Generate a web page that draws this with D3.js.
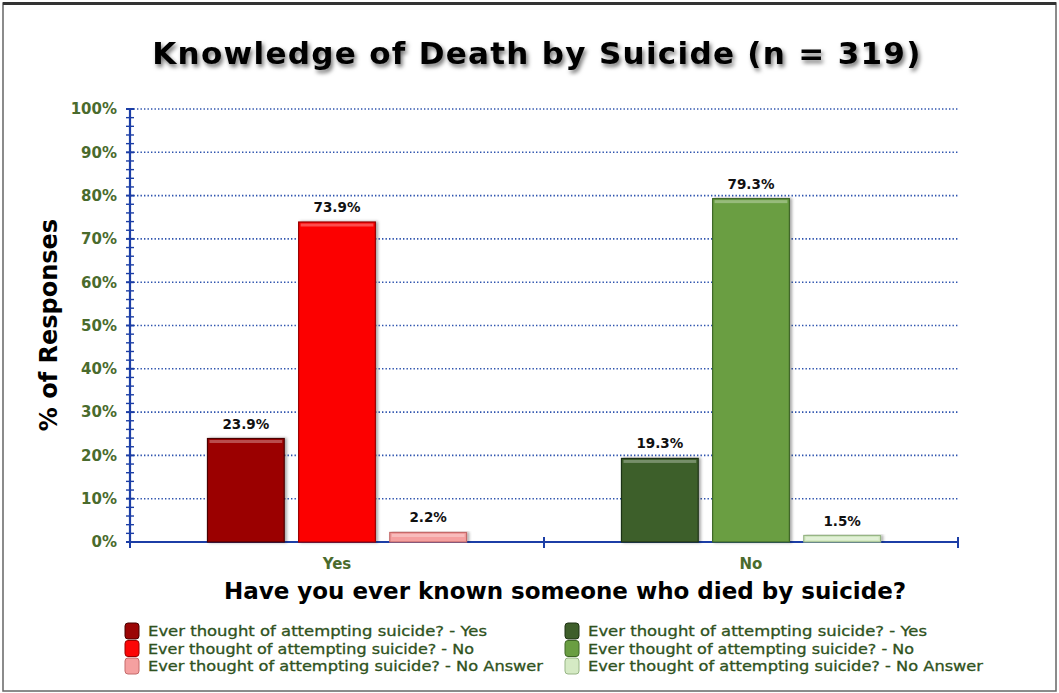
<!DOCTYPE html>
<html><head><meta charset="utf-8">
<script src="https://cdn.jsdelivr.net/npm/d3@7"></script>
<style>html,body{margin:0;padding:0;background:#fff;}svg{display:block;}</style>
</head><body>
<svg id="c" width="1059" height="693"></svg>
<script>
const categories = ["Yes", "No"];
const seriesNames = ["Ever thought of attempting suicide? - Yes", "Ever thought of attempting suicide? - No", "Ever thought of attempting suicide? - No Answer"];
const yesValues = [23.9, 73.9, 2.2];
const noValues = [19.3, 79.3, 1.5];
const yTicks = [0, 10, 20, 30, 40, 50, 60, 70, 80, 90, 100];
const yesColors = ["#9b0505", "#fc0606", "#f5a0a0"];
const noColors = ["#3e5e2a", "#6a9e42", "#d5eac4"];
const yesStroke = ["#4a0000", "#9a0000", "#c46a6a"];
const noStroke = ["#1f3314", "#3e6626", "#97b585"];

const svg = d3.select("#c");
const defs = svg.append("defs");
const f = defs.append("filter").attr("id","tshadow").attr("x","-5%").attr("y","-30%").attr("width","110%").attr("height","170%");
f.append("feDropShadow").attr("dx",2).attr("dy",3).attr("stdDeviation",2).attr("flood-color","#000").attr("flood-opacity",0.55);
const bf = defs.append("filter").attr("id","bshadow").attr("x","-20%").attr("y","-10%").attr("width","140%").attr("height","120%");
bf.append("feDropShadow").attr("dx",2).attr("dy",0).attr("stdDeviation",1.5).attr("flood-color","#000").attr("flood-opacity",0.35);

// frame
svg.append("rect").attr("x",3).attr("y",3).attr("width",1053).attr("height",688)
  .attr("fill","none").attr("stroke","#666").attr("stroke-width",1.5);
svg.append("line").attr("x1",3).attr("x2",1056).attr("y1",3.5).attr("y2",3.5).attr("stroke","#333").attr("stroke-width",3);

const y = d3.scaleLinear().domain([0,100]).range([542,109]);
const x0 = d3.scaleBand().domain(categories).range([130,958]).padding(0);
const x1 = d3.scaleBand().domain(seriesNames).range([0, x0.bandwidth()]).paddingInner(0.158).paddingOuter(0.85);

// title
svg.append("text").attr("x",537).attr("y",64).attr("text-anchor","middle")
  .attr("font-family","DejaVu Sans").attr("font-weight","bold").attr("font-size",31)
  .attr("letter-spacing",1.3).attr("filter","url(#tshadow)").attr("fill","#000")
  .text("Knowledge of Death by Suicide (n = 319)");

// gridlines
svg.append("g").selectAll("line").data(yTicks.filter(d=>d>0)).join("line")
  .attr("x1",130).attr("x2",958).attr("y1",d=>y(d)).attr("y2",d=>y(d))
  .attr("stroke","#2c52ad").attr("stroke-width",1.6).attr("stroke-dasharray","1.4,2.1");

// y axis
const axisColor = "#1c3ea6";
const yAxis = svg.append("g").attr("transform","translate(130,0)")
  .call(d3.axisLeft(y).tickValues(yTicks).tickFormat(d=>d+"%").tickSize(0).tickPadding(13));
yAxis.select(".domain").remove();
yAxis.selectAll("text").attr("font-family","DejaVu Sans").attr("font-weight","bold").attr("font-size",15).attr("fill","#4a6b2d");
svg.append("g").selectAll("line").data(d3.range(0,101,2)).join("line")
  .attr("x1",126).attr("x2",134).attr("y1",d=>y(d)).attr("y2",d=>y(d))
  .attr("stroke",axisColor).attr("stroke-width",d=>d%10===0?2:1.4);
svg.append("line").attr("x1",130).attr("x2",130).attr("y1",y(100)).attr("y2",y(0)+1).attr("stroke",axisColor).attr("stroke-width",2.2);

// x axis
svg.append("line").attr("x1",130).attr("x2",958).attr("y1",y(0)).attr("y2",y(0)).attr("stroke",axisColor).attr("stroke-width",2.2);
const sepTicks = [x0.range()[0], ...categories.map(c=>x0(c)+x0.bandwidth())];
svg.append("g").selectAll("line").data(sepTicks).join("line")
  .attr("x1",d=>d).attr("x2",d=>d).attr("y1",y(0)-5).attr("y2",y(0)+6).attr("stroke",axisColor).attr("stroke-width",2);
svg.append("g").selectAll("text").data(categories).join("text")
  .attr("x",c=>x0(c)+x0.bandwidth()/2).attr("y",569).attr("text-anchor","middle")
  .attr("font-family","DejaVu Sans").attr("font-weight","bold").attr("font-size",15).attr("fill","#4a6b2d").text(c=>c);

// bars
const groups = [{cat:"Yes", vals:yesValues, colors:yesColors, strokes:yesStroke},{cat:"No", vals:noValues, colors:noColors, strokes:noStroke}];
groups.forEach(g=>{
  const gg = svg.append("g").attr("transform",`translate(${x0(g.cat)},0)`);
  const data = seriesNames.map((s,i)=>({s, v:g.vals[i], c:g.colors[i], st:g.strokes[i]}));
  gg.selectAll("rect.bar").data(data).join("rect").attr("class","bar")
    .attr("x",d=>x1(d.s)).attr("width",x1.bandwidth())
    .attr("y",d=>y(d.v)).attr("height",d=>y(0)-y(d.v))
    .attr("fill",d=>d.c).attr("stroke",d=>d.st).attr("stroke-width",1.2).attr("filter","url(#bshadow)");
  gg.selectAll("rect.hl").data(data).join("rect").attr("class","hl")
    .attr("x",d=>x1(d.s)+2).attr("width",x1.bandwidth()-4)
    .attr("y",d=>y(d.v)+1.5).attr("height",d=>Math.min(3, Math.max(0,y(0)-y(d.v)-3)))
    .attr("fill","#fff").attr("opacity",0.3);
  gg.selectAll("text").data(data).join("text")
    .attr("x",d=>x1(d.s)+x1.bandwidth()/2).attr("y",d=>y(d.v)-10).attr("text-anchor","middle")
    .attr("font-family","DejaVu Sans").attr("font-weight","bold").attr("font-size",13.5).attr("fill","#111")
    .text(d=>d.v.toFixed(1)+"%");
});

// axis titles
svg.append("text").attr("transform","translate(57,325) rotate(-90)").attr("text-anchor","middle")
  .attr("font-family","DejaVu Sans").attr("font-weight","bold").attr("font-size",24).attr("fill","#000")
  .text("% of Responses");
svg.append("text").attr("x",565).attr("y",599).attr("text-anchor","middle")
  .attr("font-family","DejaVu Sans").attr("font-weight","bold").attr("font-size",23).attr("fill","#000")
  .text("Have you ever known someone who died by suicide?");

// legend
const legendCols = [{x:125, colors:yesColors, strokes:yesStroke},{x:565, colors:noColors, strokes:noStroke}];
legendCols.forEach(col=>{
  const lg = svg.append("g");
  const items = seriesNames.map((s,i)=>({s,c:col.colors[i],st:col.strokes[i],i}));
  lg.selectAll("rect").data(items).join("rect")
    .attr("x",col.x).attr("y",d=>623+d.i*17.5).attr("width",14).attr("height",16).attr("rx",3)
    .attr("fill",d=>d.c).attr("stroke",d=>d.st).attr("stroke-width",1);
  lg.selectAll("text").data(items).join("text")
    .attr("x",col.x+23).attr("y",d=>636+d.i*17.5)
    .attr("font-family","DejaVu Sans").attr("font-size",14).attr("fill","#2f5220").attr("stroke","#2f5220").attr("stroke-width",0.3)
    .attr("textLength",d=>[339,326,395][d.i]).attr("lengthAdjust","spacingAndGlyphs")
    .text(d=>d.s);
});
</script>
</body></html>
